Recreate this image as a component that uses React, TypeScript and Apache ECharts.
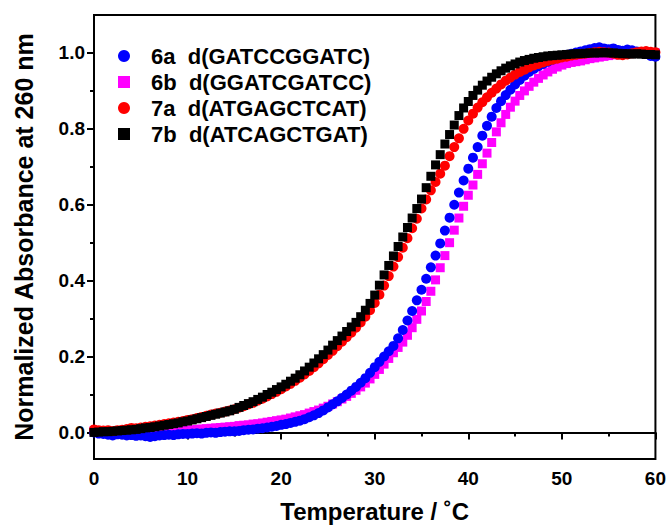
import { useEffect, useRef } from "react";
import * as echarts from "echarts";

const temperatures = [
  0, 0.5, 1, 1.5, 2, 2.5, 3, 3.5, 4, 4.5,
  5, 5.5, 6, 6.5, 7, 7.5, 8, 8.5, 9, 9.5,
  10, 10.5, 11, 11.5, 12, 12.5, 13, 13.5, 14, 14.5,
  15, 15.5, 16, 16.5, 17, 17.5, 18, 18.5, 19, 19.5,
  20, 20.5, 21, 21.5, 22, 22.5, 23, 23.5, 24, 24.5,
  25, 25.5, 26, 26.5, 27, 27.5, 28, 28.5, 29, 29.5,
  30, 30.5, 31, 31.5, 32, 32.5, 33, 33.5, 34, 34.5,
  35, 35.5, 36, 36.5, 37, 37.5, 38, 38.5, 39, 39.5,
  40, 40.5, 41, 41.5, 42, 42.5, 43, 43.5, 44, 44.5,
  45, 45.5, 46, 46.5, 47, 47.5, 48, 48.5, 49, 49.5,
  50, 50.5, 51, 51.5, 52, 52.5, 53, 53.5, 54, 54.5,
  55, 55.5, 56, 56.5, 57, 57.5, 58, 58.5, 59, 59.5,
  60,
];

// 6a d(GATCCGGATC)
const abs6a = [
  0.000, -0.003, -0.004, -0.006, -0.008, -0.005, -0.006, -0.008, -0.007, -0.009,
  -0.008, -0.010, -0.012, -0.010, -0.008, -0.007, -0.006, -0.007, -0.005, -0.004,
  -0.004, -0.003, -0.002, -0.003, -0.001, 0.000, -0.001, 0.001, 0.002, 0.003,
  0.003, 0.004, 0.006, 0.007, 0.008, 0.010, 0.011, 0.013, 0.015, 0.017,
  0.020, 0.022, 0.025, 0.028, 0.031, 0.035, 0.040, 0.045, 0.051, 0.058,
  0.066, 0.074, 0.082, 0.091, 0.100, 0.110, 0.120, 0.131, 0.143, 0.157,
  0.172, 0.186, 0.200, 0.214, 0.228, 0.248, 0.270, 0.295, 0.320, 0.348,
  0.376, 0.405, 0.435, 0.466, 0.498, 0.532, 0.566, 0.600, 0.632, 0.664,
  0.695, 0.724, 0.752, 0.782, 0.808, 0.832, 0.855, 0.873, 0.889, 0.903,
  0.917, 0.929, 0.940, 0.950, 0.958, 0.965, 0.971, 0.977, 0.982, 0.987,
  0.991, 0.995, 0.998, 1.001, 1.004, 1.007, 1.010, 1.013, 1.015, 1.012,
  1.010, 1.012, 1.008, 1.006, 1.009, 1.007, 1.004, 1.002, 0.997, 0.992,
  0.990,
];

// 6b d(GGATCGATCC)
const abs6b = [
  0.004, 0.003, 0.002, 0.002, 0.001, 0.002, 0.001, 0.000, 0.001, 0.001,
  0.000, 0.001, 0.001, 0.002, 0.002, 0.003, 0.003, 0.004, 0.005, 0.005,
  0.006, 0.007, 0.008, 0.009, 0.010, 0.011, 0.012, 0.013, 0.014, 0.015,
  0.016, 0.018, 0.019, 0.020, 0.022, 0.023, 0.025, 0.027, 0.029, 0.031,
  0.033, 0.035, 0.038, 0.041, 0.044, 0.047, 0.051, 0.055, 0.059, 0.064,
  0.069, 0.075, 0.081, 0.088, 0.095, 0.103, 0.111, 0.120, 0.130, 0.141,
  0.153, 0.166, 0.180, 0.195, 0.210, 0.224, 0.238, 0.256, 0.276, 0.298,
  0.320, 0.345, 0.372, 0.402, 0.434, 0.466, 0.500, 0.533, 0.565, 0.596,
  0.625, 0.652, 0.680, 0.708, 0.736, 0.764, 0.792, 0.816, 0.838, 0.857,
  0.873, 0.888, 0.900, 0.912, 0.923, 0.933, 0.942, 0.950, 0.957, 0.963,
  0.968, 0.972, 0.975, 0.977, 0.979, 0.982, 0.985, 0.987, 0.989, 0.991,
  0.993, 0.995, 0.997, 0.998, 0.999, 1.000, 1.001, 1.001, 1.000, 1.000,
  1.000,
];

// 7a d(ATGAGCTCAT)
const abs7a = [
  0.008, 0.006, 0.005, 0.006, 0.004, 0.006, 0.007, 0.009, 0.012, 0.011,
  0.013, 0.015, 0.016, 0.018, 0.020, 0.022, 0.024, 0.026, 0.028, 0.030,
  0.033, 0.035, 0.038, 0.041, 0.044, 0.047, 0.050, 0.052, 0.055, 0.058,
  0.061, 0.065, 0.069, 0.074, 0.078, 0.084, 0.089, 0.095, 0.101, 0.107,
  0.114, 0.121, 0.128, 0.136, 0.144, 0.153, 0.162, 0.172, 0.182, 0.193,
  0.204, 0.215, 0.227, 0.239, 0.251, 0.263, 0.276, 0.290, 0.305, 0.322,
  0.341, 0.363, 0.387, 0.412, 0.437, 0.462, 0.487, 0.512, 0.538, 0.563,
  0.590, 0.614, 0.638, 0.660, 0.682, 0.703, 0.728, 0.752, 0.775, 0.800,
  0.822, 0.840, 0.856, 0.870, 0.883, 0.895, 0.906, 0.917, 0.927, 0.935,
  0.943, 0.950, 0.956, 0.962, 0.967, 0.971, 0.975, 0.979, 0.982, 0.985,
  0.988, 0.990, 0.993, 0.995, 0.997, 0.998, 1.000, 1.002, 1.003, 1.002,
  1.001, 0.998, 0.995, 0.994, 0.996, 0.999, 1.002, 1.004, 1.005, 1.003,
  1.002,
];

// 7b d(ATCAGCTGAT)
const abs7b = [
  0.000, 0.001, 0.002, 0.002, 0.003, 0.004, 0.005, 0.006, 0.007, 0.008,
  0.010, 0.012, 0.013, 0.015, 0.017, 0.019, 0.021, 0.023, 0.025, 0.028,
  0.030, 0.033, 0.036, 0.039, 0.042, 0.045, 0.048, 0.051, 0.054, 0.057,
  0.061, 0.066, 0.071, 0.076, 0.081, 0.087, 0.093, 0.100, 0.106, 0.113,
  0.120, 0.127, 0.135, 0.143, 0.152, 0.162, 0.172, 0.183, 0.194, 0.205,
  0.217, 0.230, 0.242, 0.254, 0.266, 0.278, 0.290, 0.305, 0.322, 0.340,
  0.362, 0.388, 0.415, 0.440, 0.465, 0.490, 0.515, 0.540, 0.565, 0.590,
  0.615, 0.645, 0.675, 0.705, 0.732, 0.760, 0.785, 0.810, 0.835, 0.855,
  0.872, 0.888, 0.902, 0.915, 0.926, 0.936, 0.945, 0.953, 0.960, 0.966,
  0.971, 0.976, 0.980, 0.983, 0.986, 0.988, 0.990, 0.992, 0.993, 0.994,
  0.995, 0.996, 0.997, 0.998, 0.998, 0.999, 1.000, 1.000, 1.000, 1.001,
  1.000, 1.000, 0.999, 0.998, 0.998, 0.997, 0.998, 0.997, 0.996, 0.996,
  0.995,
];

const seriesNames = [
  "6a  d(GATCCGGATC)",
  "6b  d(GGATCGATCC)",
  "7a  d(ATGAGCTCAT)",
  "7b  d(ATCAGCTGAT)",
];
const yMajorTicks = [0, 0.2, 0.4, 0.6, 0.8, 1.0];
const yMinorTicks = [0.1, 0.3, 0.5, 0.7, 0.9];

const FONT = '"Liberation Sans", Arial, Helvetica, sans-serif';
const SQUARE_ICON = "path://M0,0L10,0L10,10L0,10Z";

export default function App() {
  const ref = useRef<HTMLDivElement>(null);

  useEffect(() => {
    if (!ref.current) return;
    const chart = echarts.init(ref.current, null, { renderer: "svg" });
    const pair = (ys: number[]) => temperatures.map((t, i) => [t, ys[i]]);

    const axisLineStyle = { color: "#000", width: 2 };
    const labelStyle = {
      color: "#000",
      fontFamily: FONT,
      fontWeight: "bold" as const,
      fontSize: 19,
    };
    const nameStyle = {
      color: "#000",
      fontFamily: FONT,
      fontWeight: "bold" as const,
      fontSize: 24,
    };

    chart.setOption({
      animation: false,
      backgroundColor: "#fff",
      textStyle: { fontFamily: FONT },
      grid: {
        left: 94,
        right: 11,
        top: 15,
        bottom: 66,
        show: true,
        borderColor: "#000",
        borderWidth: 2,
        backgroundColor: "transparent",
      },
      legend: {
        left: 113,
        top: 40,
        orient: "vertical",
        itemWidth: 44,
        itemHeight: 12,
        itemGap: 4,
        symbolKeepAspect: true,
        data: [
          { name: seriesNames[0], icon: "circle" },
          { name: seriesNames[1], icon: SQUARE_ICON },
          { name: seriesNames[2], icon: "circle" },
          { name: seriesNames[3], icon: SQUARE_ICON },
        ],
        textStyle: {
          color: "#000",
          fontFamily: FONT,
          fontWeight: "bold",
          fontSize: 22,
          lineHeight: 21,
        },
      },
      xAxis: {
        type: "value",
        min: 0,
        max: 60,
        interval: 10,
        name: "Temperature / ˚C",
        nameLocation: "middle",
        nameGap: 40,
        nameTextStyle: nameStyle,
        axisLine: { show: true, lineStyle: axisLineStyle },
        axisTick: { show: true, length: 7, lineStyle: axisLineStyle },
        minorTick: { show: true, splitNumber: 2, length: 4, lineStyle: { color: "#000", width: 2 } },
        axisLabel: { ...labelStyle, margin: 10 },
        splitLine: { show: false },
      },
      yAxis: [
        {
          type: "value",
          min: -0.07,
          max: 1.1,
          name: "Normalized Absorbance at 260 nm",
          nameLocation: "middle",
          nameGap: 58,
          nameTextStyle: { ...nameStyle, fontSize: 25 },
          axisLine: { show: true, lineStyle: axisLineStyle },
          axisTick: { show: true, length: 7, lineStyle: axisLineStyle, customValues: yMajorTicks },
          axisLabel: {
            ...labelStyle,
            margin: 9,
            customValues: yMajorTicks,
            formatter: (v: number) => v.toFixed(1),
          },
          splitLine: { show: false },
        },
        {
          type: "value",
          min: -0.07,
          max: 1.1,
          position: "left",
          axisLine: { show: false },
          axisTick: { show: true, length: 4, lineStyle: axisLineStyle, customValues: yMinorTicks },
          axisLabel: { show: false },
          splitLine: { show: false },
        },
      ],
      series: [
        {
          name: seriesNames[1],
          type: "scatter",
          symbol: "rect",
          symbolSize: 9,
          itemStyle: { color: "#ff00ff", opacity: 1 },
          data: pair(abs6b),
          z: 2,
        },
        {
          name: seriesNames[0],
          type: "scatter",
          symbol: "circle",
          symbolSize: 10,
          itemStyle: { color: "#0000ff", opacity: 1 },
          data: pair(abs6a),
          z: 3,
        },
        {
          name: seriesNames[2],
          type: "scatter",
          symbol: "circle",
          symbolSize: 10,
          itemStyle: { color: "#ff0000", opacity: 1 },
          data: pair(abs7a),
          z: 4,
        },
        {
          name: seriesNames[3],
          type: "scatter",
          symbol: "rect",
          symbolSize: 9,
          itemStyle: { color: "#000000", opacity: 1 },
          data: pair(abs7b),
          z: 5,
        },
      ],
    });
    return () => chart.dispose();
  }, []);

  return (
    <div
      ref={ref}
      style={{ position: "fixed", left: 0, top: 0, width: 669, height: 528 }}
    />
  );
}
